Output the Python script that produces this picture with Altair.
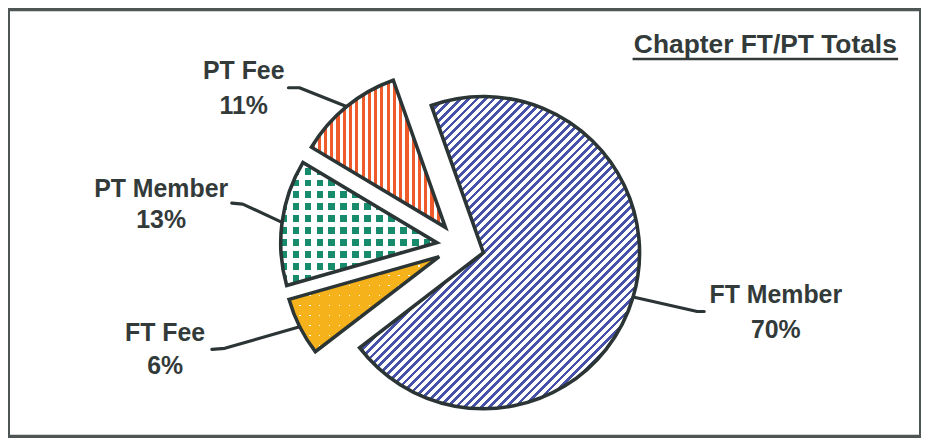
import math
import altair as alt
import pandas as pd

# ---------------- data ----------------
categories = ["FT Member", "FT Fee", "PT Member", "PT Fee"]
values = [70, 6, 13, 11]
title_text = "Chapter FT/PT Totals"

# ---------------- layout / style ----------------
W, H = 918, 430
CX, CY = 455.0, 238.0       # pie centre (view px)
R = 157.0                   # radius
EXPLODE = 24.0              # explosion distance
START_DEG = -19.5           # start angle of first slice (clockwise from 12 o'clock)
INK = "#2c3535"
TEXT = "#333a3a"
FONT = "Liberation Sans"

# label anchor: (x centre, baseline of name, baseline of percent)
label_layout = {
    "FT Member": (772, 295, 331),
    "FT Fee": (158, 334, 367),
    "PT Member": (154, 189, 220),
    "PT Fee": (237, 70, 105),
}
# leader line: elbow point, end point near label
leader_layout = {
    "FT Member": [(693, 304), (700, 304)],
    "FT Fee": [(218, 341), (205, 342)],
    "PT Member": [(236, 196), (225, 195)],
    "PT Fee": [(293, 79), (282, 79)],
}

# geometry used for styling (gradient bbox) and leader start points
total = sum(values)
geo = {}
cum = 0
for c, v in zip(categories, values):
    a0 = START_DEG + 360.0 * cum / total
    cum += v
    a1 = START_DEG + 360.0 * cum / total
    mid = math.radians((a0 + a1) / 2)
    ax = CX + EXPLODE * math.sin(mid)
    ay = CY - EXPLODE * math.cos(mid)
    pts = [(0.0, 0.0)]
    for a in [a0, a1] + [90 * k for k in range(-4, 9) if a0 < 90 * k < a1]:
        rr = math.radians(a)
        pts.append((R * math.sin(rr), -R * math.cos(rr)))
    xs = [p[0] for p in pts]
    ys = [p[1] for p in pts]
    geo[c] = dict(ax=ax, ay=ay, mid=mid, w=max(xs) - min(xs), h=max(ys) - min(ys))


def stripes(w, h, phi_deg, period, on_frac, c_on, c_off):
    p = math.radians(phi_deg)
    a, b = w * math.cos(p), h * math.sin(p)
    if abs(a) < 1e-9:
        a = 0.0
    if abs(b) < 1e-9:
        b = 0.0
    s = (a + b) / (a * a + b * b)
    gx, gy = a * s, b * s
    grad = math.hypot(gx / w, gy / h) / (gx * gx + gy * gy)
    n = 1.0 / (period * grad)
    stops = []
    i = 0
    while i / n < 1:
        o0 = round(i / n, 5)
        o1 = round(min((i + on_frac) / n, 1), 5)
        o2 = round(min((i + 1) / n, 1), 5)
        stops += [
            alt.GradientStop(offset=o0, color=c_on),
            alt.GradientStop(offset=o1, color=c_on),
            alt.GradientStop(offset=o1, color=c_off),
            alt.GradientStop(offset=o2, color=c_off),
        ]
        i += 1
    return alt.LinearGradient(gradient="linear", stops=stops, x1=0, y1=0, x2=gx, y2=gy)


CLEAR = "rgba(255,255,255,0)"
BLUE = "#4652a8"
ORANGE = "#ef5b2b"
TEAL = "#178c6c"
YELLOW = "#f6b21a"

fills = {
    "FT Member": ["white", stripes(geo["FT Member"]["w"], geo["FT Member"]["h"], 45, 6.0, 0.45, BLUE, "white")],
    "FT Fee": [YELLOW,
               stripes(geo["FT Fee"]["w"], geo["FT Fee"]["h"], 0, 10.0, 0.16, "white", CLEAR),
               stripes(geo["FT Fee"]["w"], geo["FT Fee"]["h"], 90, 10.0, 0.84, YELLOW, CLEAR)],
    "PT Member": ["white",
                  stripes(geo["PT Member"]["w"], geo["PT Member"]["h"], 0, 12.0, 0.55, TEAL, "white"),
                  stripes(geo["PT Member"]["w"], geo["PT Member"]["h"], 90, 12.0, 0.42, "white", CLEAR)],
    "PT Fee": ["white", stripes(geo["PT Fee"]["w"], geo["PT Fee"]["h"], 0, 6.3, 0.5, ORANGE, "white")],
}

# ---------------- pie ----------------
df = pd.DataFrame({"cat": categories, "value": values, "order": list(range(len(values)))})
start_rad = math.radians(START_DEG)
base = (
    alt.Chart(df)
    .transform_joinaggregate(total="sum(value)")
    .transform_window(cum="sum(value)", sort=[alt.SortField("order")], frame=[None, 0])
    .transform_calculate(
        a0=f"{start_rad} + 2*PI*(datum.cum - datum.value)/datum.total",
        a1=f"{start_rad} + 2*PI*datum.cum/datum.total",
    )
    .transform_calculate(
        ax=f"{CX} + {EXPLODE}*sin((datum.a0 + datum.a1)/2)",
        ay=f"{CY} - {EXPLODE}*cos((datum.a0 + datum.a1)/2)",
    )
)
enc = dict(
    x=alt.X("ax:Q", scale=None),
    y=alt.Y("ay:Q", scale=None),
    theta=alt.Theta("a0:Q", scale=None),
    theta2=alt.Theta2("a1:Q"),
)

layers = []
for c in categories:
    for f in fills[c]:
        layers.append(
            base.transform_filter(alt.datum.cat == c)
            .mark_arc(radius=R, fill=f, strokeWidth=0)
            .encode(**enc)
        )

layers.append(
    base.mark_arc(radius=R, fill="white", fillOpacity=0, stroke=INK, strokeWidth=3.6).encode(**enc)
)

# ---------------- leader lines ----------------
rows = []
for c in categories:
    g = geo[c]
    p0 = (g["ax"] + R * math.sin(g["mid"]), g["ay"] - R * math.cos(g["mid"]))
    pts = [p0] + leader_layout[c]
    for k, (x, y) in enumerate(pts):
        rows.append({"cat": c, "seq": k, "x": x, "y": y})
lead = pd.DataFrame(rows)
layers.append(
    alt.Chart(lead)
    .mark_line(color=INK, strokeWidth=3.2, strokeCap="round", strokeJoin="round")
    .encode(x=alt.X("x:Q", scale=None), y=alt.Y("y:Q", scale=None), detail="cat:N", order="seq:O")
)

# ---------------- labels ----------------
lab = pd.DataFrame({
    "cat": categories,
    "pct": [f"{round(100 * v / total)}%" for v in values],
    "x": [label_layout[c][0] for c in categories],
    "yn": [label_layout[c][1] for c in categories],
    "yp": [label_layout[c][2] for c in categories],
})
txt = dict(font=FONT, fontSize=25, fontWeight="bold", color=TEXT, align="center", baseline="alphabetic")
layers.append(
    alt.Chart(lab).mark_text(**txt).encode(x=alt.X("x:Q", scale=None), y=alt.Y("yn:Q", scale=None), text="cat:N")
)
layers.append(
    alt.Chart(lab).mark_text(**txt).encode(x=alt.X("x:Q", scale=None), y=alt.Y("yp:Q", scale=None), text="pct:N")
)

# ---------------- title ----------------
tdf = pd.DataFrame({"t": [title_text]})
layers.append(
    alt.Chart(tdf)
    .mark_text(font=FONT, fontSize=26.5, fontWeight="bold", color=TEXT, align="center", baseline="alphabetic")
    .encode(x=alt.value(761.5), y=alt.value(44), text="t:N")
)
layers.append(
    alt.Chart(tdf)
    .mark_rule(color=TEXT, strokeWidth=2.5)
    .encode(x=alt.value(628), x2=alt.value(895), y=alt.value(50))
)

chart = (
    alt.layer(*layers)
    .properties(width=W, height=H, padding=0, autosize=alt.AutoSizeParams(type="none"), background="white")
    .configure_view(stroke="#4d5555", strokeWidth=4)
)

chart.save("out.html", embed_options={"renderer": "svg", "actions": False})
